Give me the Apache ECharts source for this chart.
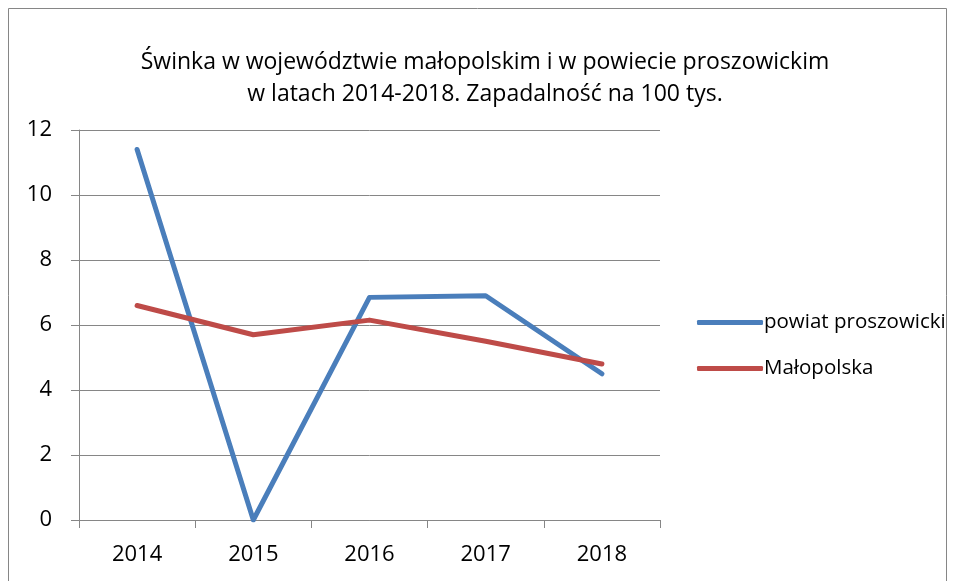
<!DOCTYPE html>
<html>
<head>
<meta charset="utf-8">
<script src="https://cdn.jsdelivr.net/npm/echarts@6/dist/echarts.min.js"></script>
<style>
  html, body { margin: 0; padding: 0; background: #fff; }
  #chart { width: 955px; height: 581px; }
</style>
</head>
<body>
<div id="chart"></div>
<script>
// dane
const years = ['2014', '2015', '2016', '2017', '2018'];
const powiat = [11.4, 0, 6.85, 6.9, 4.5];
const malopolska = [6.6, 5.7, 6.15, 5.5, 4.8];
const seriesNames = ['powiat proszowicki', 'Małopolska'];

(function () {
  const myChart = echarts.init(document.getElementById('chart'));
  const font = 'Open Sans';
  let option = {
    color: ['#4a7ebb', '#be4b48'],
    animation: false,
    title: {
      text: 'Świnka w województwie małopolskim i w powiecie proszowickim\nw latach 2014-2018. Zapadalność na 100 tys.',
      left: 480,
      top: 41,
      textAlign: 'center',
      textStyle: {
        fontFamily: font,
        fontSize: 23,
        fontWeight: 'normal',
        color: '#000',
        lineHeight: 32
      }
    },
    graphic: [{
      type: 'rect',
      shape: { x: 8.5, y: 8.5, width: 938, height: 620 },
      style: { fill: 'none', stroke: '#868686', lineWidth: 1 },
      silent: true
    }],
    legend: {
      orient: 'vertical',
      left: 692,
      top: 307,
      itemWidth: 66,
      itemHeight: 5,
      itemGap: 25,
      icon: 'roundRect',
      data: seriesNames,
      textStyle: {
        fontFamily: font,
        fontSize: 20.5,
        color: '#000',
        padding: [0, 0, 0, -4]
      }
    },
    grid: {
      left: 79,
      right: 955 - 660,
      top: 130,
      bottom: 581 - 520
    },
    xAxis: {
      type: 'category',
      boundaryGap: true,
      data: years,
      axisLine: { lineStyle: { color: '#868686', width: 1 } },
      axisTick: { show: true, length: 8, lineStyle: { color: '#868686' } },
      axisLabel: { fontFamily: font, fontSize: 22, color: '#000', margin: 24 },
      splitLine: { show: false }
    },
    yAxis: {
      type: 'value',
      min: 0,
      max: 12,
      interval: 2,
      axisLine: { show: true, lineStyle: { color: '#868686', width: 1 } },
      axisTick: { show: true, length: 8, lineStyle: { color: '#868686' } },
      axisLabel: { fontFamily: font, fontSize: 22, color: '#000', margin: 27 },
      splitLine: { lineStyle: { color: '#868686', width: 1 } }
    },
    series: [{
        name: seriesNames[0],
        type: 'line',
        data: powiat,
        symbol: 'none',
        lineStyle: { width: 5, cap: 'round', join: 'round' }
      },
      {
        name: seriesNames[1],
        type: 'line',
        data: malopolska,
        symbol: 'none',
        lineStyle: { width: 5, cap: 'round', join: 'round' }
      }
    ]
  };
  myChart.setOption(option);
  window.addEventListener('resize', function () {
    myChart.resize();
  });
})();
</script>
</body>
</html>
